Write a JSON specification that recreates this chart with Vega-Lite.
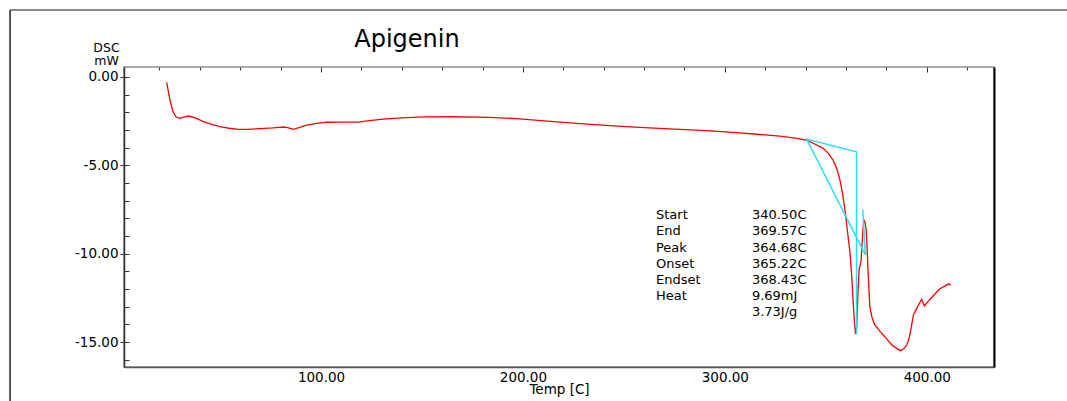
{
  "$schema": "https://vega.github.io/schema/vega-lite/v6.json",
  "width": 870,
  "height": 300,
  "autosize": {"type": "none"},
  "padding": {"left": 124, "top": 67, "right": 73, "bottom": 34},
  "background": "white",
  "title": {
    "text": "Apigenin",
    "anchor": "middle",
    "frame": "group",
    "dx": -152,
    "offset": -61.5,
    "baseline": "alphabetic",
    "font": "DejaVu Sans",
    "fontSize": 24,
    "fontWeight": "normal",
    "color": "#000000"
  },
  "config": {
    "view": {"stroke": "#8c8c8c", "strokeWidth": 1.5},
    "axis": {
      "grid": false,
      "labelFont": "DejaVu Sans",
      "labelFontSize": 13.5,
      "labelColor": "#000000",
      "titleFont": "DejaVu Sans",
      "titleFontSize": 13.5,
      "titleFontWeight": "normal",
      "titleColor": "#000000",
      "tickColor": "#333333",
      "domainColor": "#444444"
    },
    "text": {"font": "DejaVu Sans"}
  },
  "datasets": {
    "curve": [
      {"T": 23.6, "mW": -0.30}, {"T": 24.6, "mW": -0.95}, {"T": 25.6, "mW": -1.50}, {"T": 26.8, "mW": -1.98},
      {"T": 28.2, "mW": -2.25}, {"T": 29.9, "mW": -2.34}, {"T": 32.0, "mW": -2.27}, {"T": 34.7, "mW": -2.21},
      {"T": 38.0, "mW": -2.33}, {"T": 41.8, "mW": -2.53}, {"T": 46.0, "mW": -2.68}, {"T": 50.0, "mW": -2.81},
      {"T": 54.5, "mW": -2.90}, {"T": 59.0, "mW": -2.96}, {"T": 64.0, "mW": -2.96}, {"T": 69.8, "mW": -2.92},
      {"T": 76.0, "mW": -2.88}, {"T": 81.4, "mW": -2.83}, {"T": 83.5, "mW": -2.86}, {"T": 86.3, "mW": -2.96},
      {"T": 89.5, "mW": -2.85}, {"T": 92.9, "mW": -2.72}, {"T": 98.0, "mW": -2.62}, {"T": 102.8, "mW": -2.56},
      {"T": 109.4, "mW": -2.55}, {"T": 118.3, "mW": -2.55}, {"T": 124.0, "mW": -2.47}, {"T": 130.9, "mW": -2.38},
      {"T": 140.0, "mW": -2.31}, {"T": 150.7, "mW": -2.26}, {"T": 165.0, "mW": -2.25}, {"T": 183.7, "mW": -2.28},
      {"T": 196.9, "mW": -2.36}, {"T": 212.0, "mW": -2.50}, {"T": 228.2, "mW": -2.64}, {"T": 243.0, "mW": -2.75},
      {"T": 257.9, "mW": -2.85}, {"T": 275.0, "mW": -2.95}, {"T": 291.0, "mW": -3.04}, {"T": 304.0, "mW": -3.13},
      {"T": 315.7, "mW": -3.24}, {"T": 327.3, "mW": -3.35}, {"T": 335.0, "mW": -3.46}, {"T": 340.5, "mW": -3.57},
      {"T": 345.0, "mW": -3.82}, {"T": 348.7, "mW": -4.04}, {"T": 351.5, "mW": -4.35}, {"T": 353.6, "mW": -4.70},
      {"T": 355.5, "mW": -5.20}, {"T": 357.0, "mW": -5.83}, {"T": 358.3, "mW": -6.60}, {"T": 359.5, "mW": -7.53},
      {"T": 360.8, "mW": -8.80}, {"T": 362.0, "mW": -9.98}, {"T": 362.9, "mW": -11.40}, {"T": 363.6, "mW": -12.81},
      {"T": 364.2, "mW": -13.90}, {"T": 364.68, "mW": -14.55}, {"T": 365.3, "mW": -14.10}, {"T": 366.0, "mW": -12.00},
      {"T": 366.5, "mW": -10.92}, {"T": 367.5, "mW": -10.36}, {"T": 368.2, "mW": -9.00}, {"T": 368.8, "mW": -8.09},
      {"T": 369.4, "mW": -8.20}, {"T": 370.0, "mW": -8.66}, {"T": 370.5, "mW": -9.80}, {"T": 370.9, "mW": -10.92},
      {"T": 371.4, "mW": -12.10}, {"T": 371.8, "mW": -13.00}, {"T": 372.8, "mW": -13.57}, {"T": 374.1, "mW": -14.00},
      {"T": 376.8, "mW": -14.40}, {"T": 379.2, "mW": -14.70}, {"T": 382.7, "mW": -15.17}, {"T": 386.8, "mW": -15.49},
      {"T": 388.5, "mW": -15.40}, {"T": 390.1, "mW": -15.17}, {"T": 391.2, "mW": -14.80}, {"T": 391.8, "mW": -14.50},
      {"T": 393.4, "mW": -13.47}, {"T": 395.5, "mW": -13.00}, {"T": 397.5, "mW": -12.58}, {"T": 398.8, "mW": -12.96},
      {"T": 401.3, "mW": -12.62}, {"T": 406.3, "mW": -12.00}, {"T": 410.9, "mW": -11.71}, {"T": 411.9, "mW": -11.79}
    ],
    "construction": [
      {"step": 1, "T": 365.22, "mW": -14.55},
      {"step": 2, "T": 365.22, "mW": -4.23},
      {"step": 3, "T": 340.50, "mW": -3.51},
      {"step": 4, "T": 369.57, "mW": -10.07},
      {"step": 5, "T": 368.30, "mW": -7.50}
    ],
    "resultNames": [
      {"lines": ["Start", "End", "Peak", "Onset", "Endset", "Heat"]}
    ],
    "resultValues": [
      {"lines": ["340.50C", "369.57C", "364.68C", "365.22C", "368.43C", "9.69mJ", "3.73J/g"]}
    ],
    "frame": [
      {"edge": "sheet"}
    ]
  },
  "layer": [
    {
      "data": {"name": "curve"},
      "mark": {"type": "line", "color": "#ff0000", "strokeWidth": 1.3},
      "encoding": {
        "x": {
          "field": "T", "type": "quantitative",
          "scale": {"domain": [2.43, 433.3], "nice": false, "zero": false},
          "axis": {
            "title": "Temp [C]",
            "values": [100, 200, 300, 400],
            "format": ".2f",
            "ticks": false,
            "labelPadding": 3,
            "labelDx": -4,
            "domainWidth": 1.5,
            "domainColor": "#555555",
            "titleY": 26,
            "titleBaseline": "alphabetic"
          }
        },
        "y": {
          "field": "mW", "type": "quantitative",
          "scale": {"domain": [-16.415, 0.566], "nice": false, "zero": false},
          "axis": {
            "orient": "left",
            "title": ["DSC", "mW"],
            "values": [0, -5, -10, -15],
            "labelExpr": "(datum.value < 0 ? '-' : '') + format(abs(datum.value), '.2f')",
            "tickSize": 4,
            "labelPadding": 2,
            "domainWidth": 1.5,
            "domainColor": "#333333",
            "titleAngle": 0,
            "titleAlign": "center",
            "titleBaseline": "alphabetic",
            "titleX": -18,
            "titleY": -16,
            "titleLineHeight": 13,
            "titleFontSize": 12.5
          }
        },
        "order": {"field": "T"}
      }
    },
    {
      "data": {"name": "construction"},
      "mark": {"type": "line", "color": "#22e4f0", "strokeWidth": 1.5},
      "encoding": {
        "x": {
          "field": "T", "type": "quantitative",
          "scale": {"domain": [2.43, 433.3], "nice": false, "zero": false},
          "axis": {"title": null, "values": [100, 200, 300, 400], "tickSize": -5, "labels": false, "domain": false}
        },
        "y": {
          "field": "mW", "type": "quantitative",
          "scale": {"domain": [-16.415, 0.566], "nice": false, "zero": false},
          "axis": {
            "orient": "left", "title": null,
            "values": [0, -1, -2, -3, -4, -5, -6, -7, -8, -9, -10, -11, -12, -13, -14, -15, -16],
            "tickSize": -5, "labels": false, "domain": false
          }
        },
        "order": {"field": "step"}
      }
    },
    {
      "data": {"name": "resultNames"},
      "mark": {"type": "text", "align": "left", "baseline": "alphabetic", "fontSize": 13, "lineHeight": 16.1, "color": "#000000"},
      "encoding": {
        "x": {
          "datum": 265.9, "type": "quantitative",
          "scale": {"domain": [2.43, 433.3], "nice": false, "zero": false},
          "axis": {
            "title": null,
            "values": [20, 40, 60, 80, 120, 140, 160, 180, 220, 240, 260, 280, 320, 340, 360, 380, 420],
            "tickSize": -3, "labels": false, "domain": false
          }
        },
        "y": {
          "datum": -8.06, "type": "quantitative",
          "scale": {"domain": [-16.415, 0.566], "nice": false, "zero": false},
          "axis": {"orient": "right", "title": null, "ticks": false, "labels": false, "domainColor": "#000000", "domainWidth": 2}
        },
        "text": {"field": "lines"}
      }
    },
    {
      "data": {"name": "resultValues"},
      "mark": {"type": "text", "align": "left", "baseline": "alphabetic", "fontSize": 13, "lineHeight": 16.1, "color": "#000000"},
      "encoding": {
        "x": {"datum": 313.4, "type": "quantitative", "scale": {"domain": [2.43, 433.3], "nice": false, "zero": false}, "axis": null},
        "y": {"datum": -8.06, "type": "quantitative", "scale": {"domain": [-16.415, 0.566], "nice": false, "zero": false}, "axis": null},
        "text": {"field": "lines"}
      }
    },
    {
      "data": {"name": "frame"},
      "mark": {"type": "rule", "color": "#8c8c8c", "strokeWidth": 2},
      "encoding": {
        "x": {"datum": -54.0, "type": "quantitative", "scale": {"domain": [2.43, 433.3], "nice": false, "zero": false}, "axis": null},
        "x2": {"datum": 469.5},
        "y": {"datum": 3.79, "type": "quantitative", "scale": {"domain": [-16.415, 0.566], "nice": false, "zero": false}, "axis": null}
      }
    },
    {
      "data": {"name": "frame"},
      "mark": {"type": "rule", "color": "#222222", "strokeWidth": 1.5},
      "encoding": {
        "x": {"datum": -54.0, "type": "quantitative", "scale": {"domain": [2.43, 433.3], "nice": false, "zero": false}, "axis": null},
        "y": {"datum": 3.79, "type": "quantitative", "scale": {"domain": [-16.415, 0.566], "nice": false, "zero": false}, "axis": null},
        "y2": {"datum": -18.34}
      }
    }
  ],
  "resolve": {"axis": {"x": "independent", "y": "independent"}}
}
